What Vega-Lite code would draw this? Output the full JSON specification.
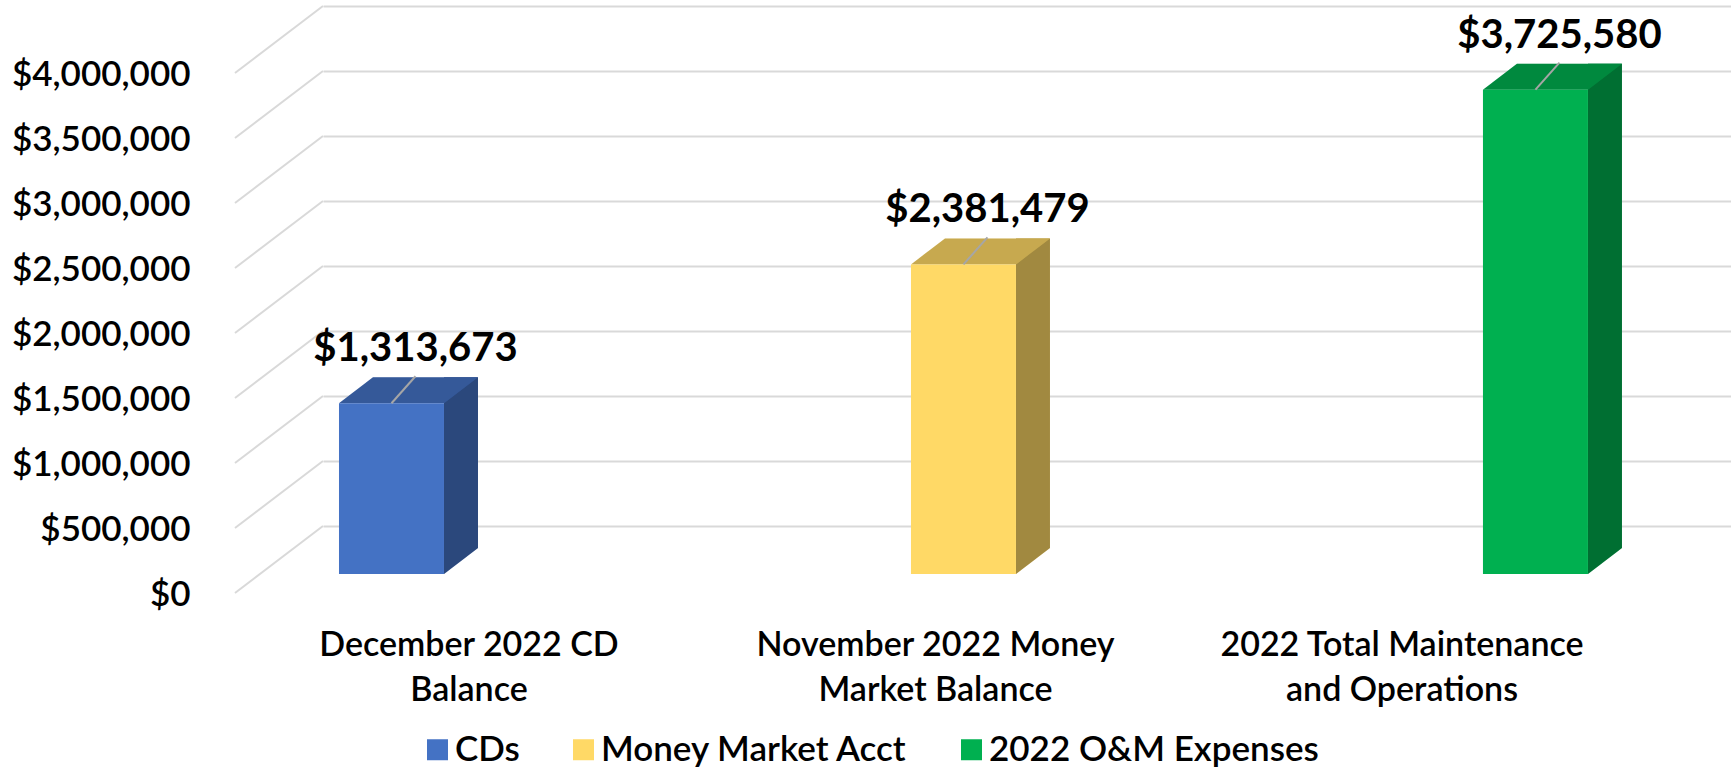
{
  "$schema": "https://vega.github.io/schema/vega-lite/v6.json",
  "width": 1408,
  "height": 520,
  "autosize": {"type": "none"},
  "padding": {"left": 323, "top": 54, "right": 0, "bottom": 196},
  "background": "white",
  "datasets": {
    "bars": [
      {"category": "December 2022 CD\nBalance", "series": "CDs", "value": 1313673},
      {"category": "November 2022 Money\nMarket Balance", "series": "Money Market Acct", "value": 2381479},
      {"category": "2022 Total Maintenance\nand Operations", "series": "2022 O&M Expenses", "value": 3725580}
    ],
    "ticks": [
      {"tick": 0}, {"tick": 500000}, {"tick": 1000000}, {"tick": 1500000}, {"tick": 2000000},
      {"tick": 2500000}, {"tick": 3000000}, {"tick": 3500000}, {"tick": 4000000}
    ]
  },
  "resolve": {"scale": {"x": "independent"}},
  "layer": [
    {
      "data": {"name": "ticks"},
      "mark": {"type": "rule", "color": "#D9D9D9", "strokeWidth": 2, "x2Offset": -88, "yOffset": -48, "y2Offset": 19},
      "encoding": {
        "x": {"datum": 0, "type": "quantitative", "scale": {"domain": [0, 1]}, "axis": null},
        "x2": {"datum": 0},
        "y": {"field": "tick", "type": "quantitative", "scale": {"domain": [0, 4000000], "nice": false},
              "axis": {"title": null, "format": "$,.0f", "values": [0, 500000, 1000000, 1500000, 2000000, 2500000, 3000000, 3500000, 4000000]}},
        "y2": {"field": "tick"}
      }
    },
    {
      "data": {"name": "bars"},
      "mark": {"type": "text", "font": "Lato", "fontSize": 34, "fontWeight": 600, "color": "#000000", "baseline": "top", "align": "center", "lineBreak": "\n", "lineHeight": 45, "dy": 55},
      "encoding": {
        "x": {"field": "category", "type": "nominal", "sort": null, "scale": {"type": "point", "padding": 0.5091, "align": 0.3074}, "axis": null},
        "y": {"datum": 0, "type": "quantitative"},
        "text": {"field": "category"}
      }
    },
    {
      "data": {"name": "bars"},
      "encoding": {
        "x": {"field": "category", "type": "nominal", "sort": null, "scale": {"type": "point", "padding": 0.2308, "align": 0.2594}, "axis": null}
      },
      "layer": [
        {
          "mark": {"type": "bar", "width": 34, "xOffset": 69.5, "yOffset": -26, "y2Offset": -26},
          "encoding": {
            "y": {"field": "value", "type": "quantitative"},
            "y2": {"datum": 0},
            "color": {"field": "series", "type": "nominal", "sort": null,
                      "scale": {"domain": ["CDs", "Money Market Acct", "2022 O&M Expenses"], "range": ["#4472C4", "#FFD966", "#00B050"]},
                      "legend": {"title": null, "orient": "none", "legendX": 97, "legendY": 678, "direction": "horizontal",
                                 "symbolType": "square", "symbolSize": 441, "symbolStrokeWidth": 0, "labelFont": "Lato", "labelFontSize": 35, "labelFontWeight": 600,
                                 "labelColor": "#000000", "labelOffset": 0, "columnPadding": 46, "padding": 0, "labelLimit": 0}}
          }
        },
        {
          "mark": {"type": "point", "shape": "M52.5,-26L52.5,0L86.5,-26Z", "size": 4, "filled": true, "opacity": 1, "strokeWidth": 0},
          "encoding": {
            "y": {"datum": 0, "type": "quantitative"},
            "color": {"field": "series", "type": "nominal", "sort": null}
          }
        },
        {
          "mark": {"type": "bar", "width": 34, "xOffset": 69.5, "yOffset": -26, "y2Offset": -26, "color": "#000000", "opacity": 0.37},
          "encoding": {
            "y": {"field": "value", "type": "quantitative"},
            "y2": {"datum": 0}
          }
        },
        {
          "mark": {"type": "point", "shape": "M52.5,-26L52.5,0L86.5,-26Z", "size": 4, "filled": true, "opacity": 0.37, "strokeWidth": 0, "color": "#000000"},
          "encoding": {
            "y": {"datum": 0, "type": "quantitative"}
          }
        },
        {
          "mark": {"type": "point", "shape": "M-52.5,0L52.5,0L86.5,-26L-18.5,-26Z", "size": 4, "filled": true, "opacity": 1, "strokeWidth": 0},
          "encoding": {
            "y": {"field": "value", "type": "quantitative"},
            "color": {"field": "series", "type": "nominal", "sort": null}
          }
        },
        {
          "mark": {"type": "point", "shape": "M-52.5,0L52.5,0L86.5,-26L-18.5,-26Z", "size": 4, "filled": true, "opacity": 0.22, "strokeWidth": 0, "color": "#000000"},
          "encoding": {
            "y": {"field": "value", "type": "quantitative"}
          }
        },
        {
          "mark": {"type": "bar", "width": 105},
          "encoding": {
            "y": {"field": "value", "type": "quantitative"},
            "y2": {"datum": 0},
            "color": {"field": "series", "type": "nominal", "sort": null}
          }
        },
        {
          "mark": {"type": "point", "shape": "M0,0L24,-27", "size": 4, "filled": false, "opacity": 1, "strokeWidth": 2, "color": "#A6A6A6"},
          "encoding": {
            "y": {"field": "value", "type": "quantitative"}
          }
        },
        {
          "mark": {"type": "text", "font": "Lato", "fontSize": 40, "fontWeight": "bold", "color": "#000000", "baseline": "alphabetic", "align": "center", "dx": 24, "dy": -42},
          "encoding": {
            "y": {"field": "value", "type": "quantitative"},
            "text": {"field": "value", "type": "quantitative", "format": "$,.0f"}
          }
        }
      ]
    }
  ],
  "config": {
    "view": {"stroke": null},
    "font": "Lato",
    "axisY": {
      "grid": true, "gridColor": "#D9D9D9", "gridWidth": 2, "ticks": false, "domain": false,
      "tickOffset": -48, "labelOffset": 68, "labelPadding": 133,
      "labelFont": "Lato", "labelFontSize": 35, "labelFontWeight": 600, "labelColor": "#000000"
    }
  }
}
